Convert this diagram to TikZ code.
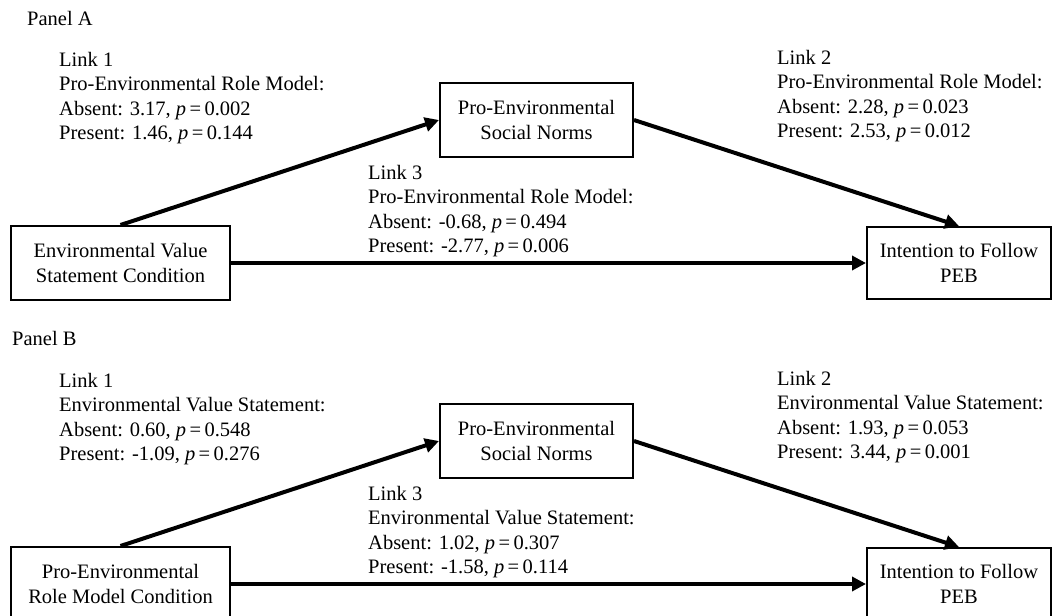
\documentclass[tikz,border=0pt]{standalone}
\usepackage{fontspec}
\setmainfont{Liberation Serif}
\usetikzlibrary{arrows.meta}
\begin{document}
\begin{tikzpicture}[x=1pt,y=-1pt,
  every node/.style={font=\fontsize{20.5}{24.5}\selectfont, inner sep=0pt},
  box/.style={draw, line width=2pt, align=center},
  lbl/.style={align=left, anchor=base west},
  link/.style={line width=4pt, -{Triangle[length=14pt,width=14pt]}}]
\useasboundingbox (0,0) rectangle (1053,616);
% ---------------- Panel A ----------------
\node[lbl] (pa) at (27,25) {Panel A};
\node[box, minimum width=219pt, minimum height=74pt] (xA) at (120.5,263) {Environmental Value\\Statement Condition};
\node[box, minimum width=193pt, minimum height=74pt] (mA) at (536.5,120) {Pro-Environmental\\Social Norms};
\node[box, minimum width=184pt, minimum height=72pt] (yA) at (959,263) {Intention to Follow\\PEB};
\node[lbl] (l1A) at (59,139.5) {Link 1\\Pro-Environmental Role Model:\\Absent: 3.17, \textit{p}\,=\,0.002\\Present: 1.46, \textit{p}\,=\,0.144};
\node[lbl] (l2A) at (777,137.5) {Link 2\\Pro-Environmental Role Model:\\Absent: 2.28, \textit{p}\,=\,0.023\\Present: 2.53, \textit{p}\,=\,0.012};
\node[lbl] (l3A) at (368,252.5) {Link 3\\Pro-Environmental Role Model:\\Absent: -0.68, \textit{p}\,=\,0.494\\Present: -2.77, \textit{p}\,=\,0.006};
\draw[link] (xA.north) -- (mA.west);
\draw[link] (mA.east) -- (yA.north);
\draw[link] (xA.east) -- (yA.west);
% ---------------- Panel B ----------------
\node[lbl] (pb) at (12,345) {Panel B};
\node[box, minimum width=219pt, minimum height=74pt] (xB) at (120.5,584) {Pro-Environmental\\Role Model Condition};
\node[box, minimum width=193pt, minimum height=74pt] (mB) at (536.5,441) {Pro-Environmental\\Social Norms};
\node[box, minimum width=184pt, minimum height=72pt] (yB) at (959,584) {Intention to Follow\\PEB};
\node[lbl] (l1B) at (59,460.5) {Link 1\\Environmental Value Statement:\\Absent: 0.60, \textit{p}\,=\,0.548\\Present: -1.09, \textit{p}\,=\,0.276};
\node[lbl] (l2B) at (777,458.5) {Link 2\\Environmental Value Statement:\\Absent: 1.93, \textit{p}\,=\,0.053\\Present: 3.44, \textit{p}\,=\,0.001};
\node[lbl] (l3B) at (368,573.5) {Link 3\\Environmental Value Statement:\\Absent: 1.02, \textit{p}\,=\,0.307\\Present: -1.58, \textit{p}\,=\,0.114};
\draw[link] (xB.north) -- (mB.west);
\draw[link] (mB.east) -- (yB.north);
\draw[link] (xB.east) -- (yB.west);
\end{tikzpicture}
\end{document}
